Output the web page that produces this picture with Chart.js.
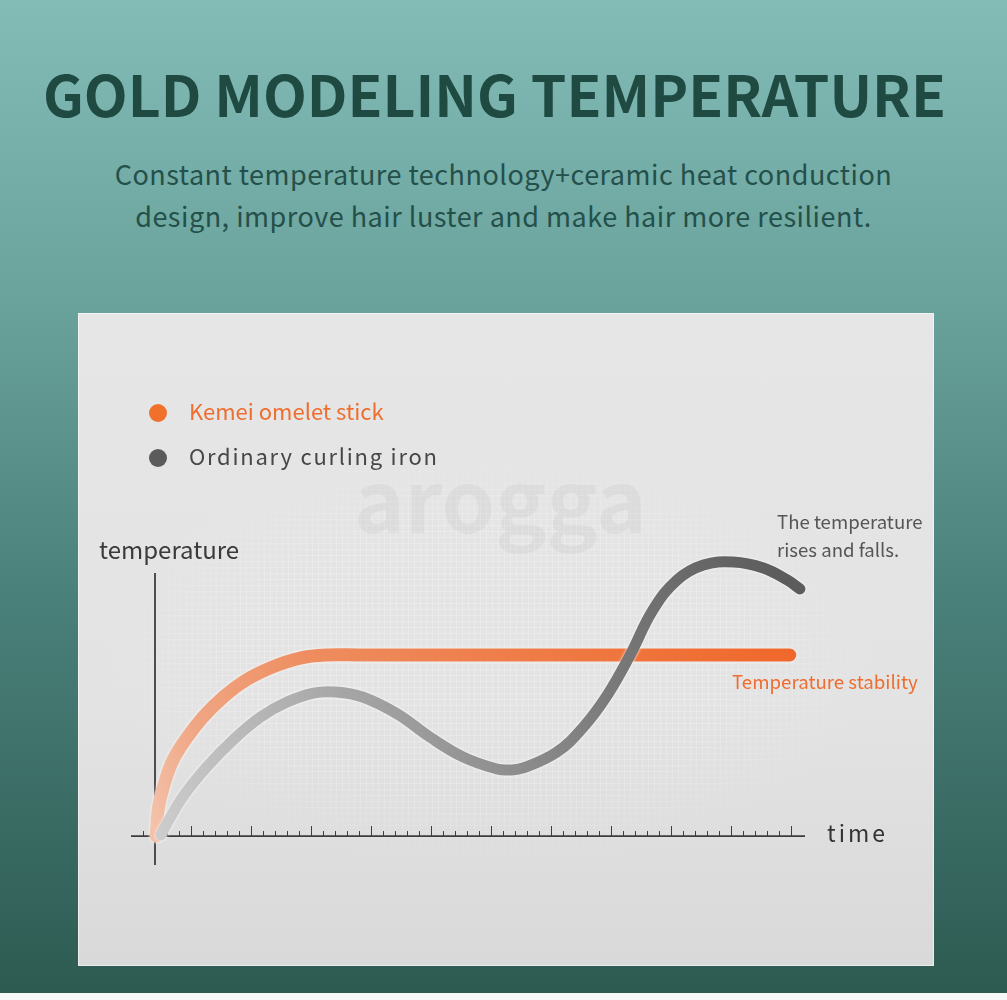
<!DOCTYPE html>
<html>
<head>
<meta charset="utf-8">
<script src="https://cdn.jsdelivr.net/npm/chart.js@4.4.0/dist/chart.umd.min.js"></script>
<style>
  html, body { margin: 0; padding: 0; }
  body {
    width: 1007px; height: 1000px; position: relative; overflow: hidden;
    background: linear-gradient(180deg, #83bbb7 0%, #6aa29c 30%, #4a807a 60%, #2d5b52 99%);
    font-family: "Noto Sans CJK SC", "Noto Sans", sans-serif;
  }
  .abs { position: absolute; white-space: nowrap; line-height: 1; }
  #title { left: -9px; width: 1007px; text-align: center; top: 64px; font-size: 57px; font-weight: 700; color: #1f4a41; }
  .sub { left: 0; width: 1007px; text-align: center; font-size: 27px; color: #24504a; letter-spacing: 0.5px; }
  #panel {
    position: absolute; left: 78px; top: 313px; width: 856px; height: 653px;
    background: linear-gradient(180deg, #e6e6e6 0%, #e3e3e3 60%, #d9d9d9 100%);
    box-shadow: inset 0 0 0 1px rgba(255,255,255,0.5);
  }
  #grid {
    position: absolute; left: 30px; top: 140px; width: 760px; height: 410px;
    background-image:
      linear-gradient(rgba(255,255,255,0.22) 1px, transparent 1px),
      linear-gradient(90deg, rgba(255,255,255,0.22) 1px, transparent 1px);
    background-size: 6px 6px;
    -webkit-mask-image: radial-gradient(ellipse at center, #000 45%, transparent 75%);
    mask-image: radial-gradient(ellipse at center, #000 45%, transparent 75%);
  }
  #chart { position: absolute; left: 0; top: 0; }
  .dot { position: absolute; width: 18px; height: 18px; border-radius: 50%; }
  #bottom { position: absolute; left: 0; top: 993px; width: 1007px; height: 7px; background: #f7f7f7; }
</style>
</head>
<body>
<div id="title" class="abs">GOLD MODELING TEMPERATURE</div>
<div class="abs sub" style="top:160px">Constant temperature technology+ceramic heat conduction</div>
<div class="abs sub" style="top:202px">design, improve hair luster and make hair more resilient.</div>

<div id="panel">
  <div id="grid"></div>
  <div class="abs" style="left:276px; top:140px; font-size:86px; font-weight:700; color:rgba(0,0,0,0.035);">arogga</div>
  <canvas id="chart" width="856" height="653"></canvas>

  <div class="dot" style="left:71px; top:91px; background:#f0702c"></div>
  <div class="abs" style="left:111px; top:86px; font-size:22px; color:#ee6e2f">Kemei omelet stick</div>
  <div class="dot" style="left:71px; top:136px; background:#5b5b5b"></div>
  <div class="abs" style="left:111px; top:131px; font-size:22px; color:#474747; letter-spacing:1.75px">Ordinary curling iron</div>

  <div class="abs" style="left:21px; top:224px; font-size:24px; color:#3a3a3a">temperature</div>
  <div class="abs" style="left:699px; top:199px; font-size:18.6px; color:#555555">The temperature</div>
  <div class="abs" style="left:699px; top:227px; font-size:18.6px; color:#555555">rises and falls.</div>
  <div class="abs" style="left:654px; top:359px; font-size:18.7px; color:#ee6d2f">Temperature stability</div>
  <div class="abs" style="left:749px; top:508px; font-size:23px; color:#333333; letter-spacing:3px">time</div>
</div>
<div id="bottom"></div>

<script>
// Kemei omelet stick - rises fast then holds flat
const timeKemei = [0.1, 0.3, 0.8, 1.5, 2.7, 4.0, 5.7, 7.6, 9.8, 12.1, 14.3, 17, 30, 40, 52.9];
const tempKemei = [0, 16, 29.3, 42, 54.7, 65.7, 76.8, 86.2, 93.4, 98.3, 100, 100, 100, 100, 100];

// Ordinary curling iron - rises and falls
const timeOrdinary = [0.5, 0.7, 2.3, 4.3, 6.5, 8.8, 11.0, 13.2, 15.0, 17.3, 20.2, 22.9, 25.7, 28.5, 29.6, 30.7, 33.5, 35.7, 37.7, 39.6, 41.5, 43.5, 45.7, 48.2, 50.7, 52.7, 53.75];
const tempOrdinary = [0.6, 3.3, 21.5, 38.1, 53.0, 65.7, 74.0, 79.0, 79.6, 76.8, 67.4, 54.7, 43.6, 37.0, 36.5, 37.6, 46.4, 60.2, 77.9, 100, 124.9, 141.4, 149.7, 151.4, 148.1, 141.4, 136.5];

// axis range and tick marks (time units)
const xRange = [-2, 54.17];
const yRange = [-16, 145.3];
const tickFirst = -1, tickLast = 53, majorEvery = 5, majorOffset = 3;

const toPoints = (xs, ys) => xs.map((x, i) => ({ x: x, y: ys[i] }));

function makeGradient(chart, stops) {
  const { ctx, chartArea, scales } = chart;
  const fallback = stops[stops.length - 1][1];
  if (!chartArea || !scales.x || !scales.y) return fallback;
  const x1 = scales.x.getPixelForValue(0), x2 = scales.x.getPixelForValue(54);
  const y1 = scales.y.getPixelForValue(0), y2 = scales.y.getPixelForValue(100);
  if (![x1, x2, y1, y2].every(Number.isFinite)) return fallback;
  const g = ctx.createLinearGradient(x1, y1, x2, y2);
  stops.forEach(s => g.addColorStop(s[0], s[1]));
  return g;
}

// axes with tick marks pointing up
const axesPlugin = {
  id: 'axes',
  beforeDatasetsDraw(chart) {
    const { ctx, scales: { x, y } } = chart;
    const y0 = y.getPixelForValue(0);
    const x0 = x.getPixelForValue(0);
    ctx.save();
    ctx.strokeStyle = '#3d3d3d';
    ctx.lineWidth = 1;
    for (let k = tickFirst; k <= tickLast; k++) {
      const px = Math.round(x.getPixelForValue(k)) + 0.5;
      const len = (k - majorOffset) % majorEvery === 0 ? 10 : 5;
      ctx.beginPath();
      ctx.moveTo(px, y0);
      ctx.lineTo(px, y0 - len);
      ctx.stroke();
    }
    ctx.lineWidth = 1.8;
    ctx.beginPath();
    ctx.moveTo(x.left, y0);
    ctx.lineTo(x.right, y0);
    ctx.stroke();
    ctx.beginPath();
    ctx.moveTo(x0, y.top);
    ctx.lineTo(x0, y.bottom);
    ctx.stroke();
    ctx.restore();
  },
  beforeDatasetDraw(chart) {
    chart.ctx.save();
    chart.ctx.shadowColor = 'rgba(255,255,255,0.95)';
    chart.ctx.shadowBlur = 3;
  },
  afterDatasetDraw(chart) {
    chart.ctx.restore();
  }
};

new Chart(document.getElementById('chart'), {
  type: 'line',
  data: {
    datasets: [{
      label: 'Ordinary curling iron',
      data: toPoints(timeOrdinary, tempOrdinary),
      borderColor: ctx => makeGradient(ctx.chart, [[0, '#cdcdcd'], [0.3, '#a9a9a9'], [0.55, '#8c8c8c'], [0.75, '#767676'], [1, '#5c5c5c']]),
      borderWidth: 11,
      order: 1
    }, {
      label: 'Kemei omelet stick',
      data: toPoints(timeKemei, tempKemei),
      borderColor: ctx => makeGradient(ctx.chart, [[0, '#f3c2aa'], [0.1, '#f0a684'], [0.3, '#ee8c5e'], [1, '#f0672a']]),
      borderWidth: 13,
      order: 2
    }]
  },
  options: {
    responsive: false,
    animation: false,
    events: [],
    layout: { autoPadding: false, padding: { left: 53, right: 129, top: 260, bottom: 101 } },
    elements: {
      line: { tension: 0.4, capBezierPoints: false, borderCapStyle: 'round', borderJoinStyle: 'round', fill: false },
      point: { radius: 0 }
    },
    datasets: { line: { clip: false } },
    plugins: { legend: { display: false }, tooltip: { enabled: false } },
    scales: {
      x: { type: 'linear', display: false, min: xRange[0], max: xRange[1] },
      y: { type: 'linear', display: false, min: yRange[0], max: yRange[1] }
    }
  },
  plugins: [axesPlugin]
});
</script>
</body>
</html>
